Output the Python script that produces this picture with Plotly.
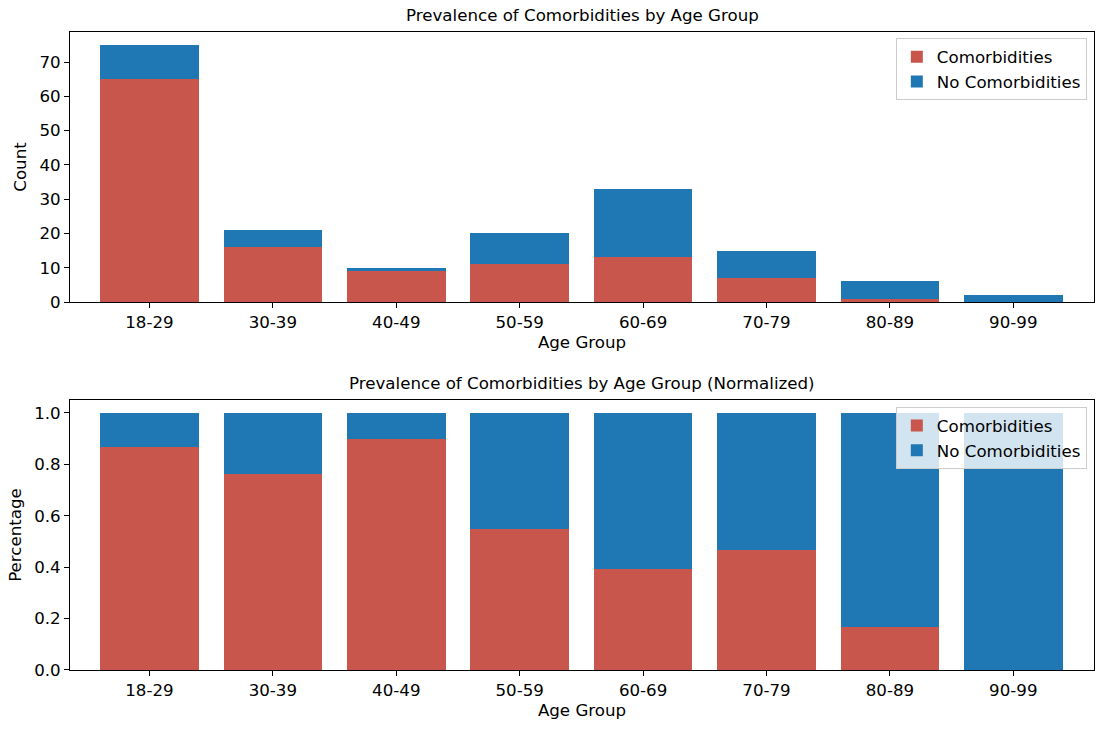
import plotly.graph_objects as go

age_groups = ["18-29", "30-39", "40-49", "50-59", "60-69", "70-79", "80-89", "90-99"]
comorb_counts = [65, 16, 9, 11, 13, 7, 1, 0]
no_comorb_counts = [10, 5, 1, 9, 20, 8, 5, 2]
comorb_share = [0.867, 0.762, 0.900, 0.550, 0.394, 0.467, 0.167, 0.0]
no_comorb_share = [0.133, 0.238, 0.100, 0.450, 0.606, 0.533, 0.833, 1.0]

RED = "#c8564c"
BLUE = "#1f77b4"
FONT = "DejaVu Sans"
FS = 16.67

fig = go.Figure()
xs = list(range(len(age_groups)))

fig.add_trace(go.Bar(x=xs, y=comorb_counts, name="Comorbidities", marker_color=RED,
                     marker_line_width=0, width=0.8, xaxis="x", yaxis="y", legend="legend"))
fig.add_trace(go.Bar(x=xs, y=no_comorb_counts, name="No Comorbidities", marker_color=BLUE,
                     marker_line_width=0, width=0.8, xaxis="x", yaxis="y", legend="legend"))
fig.add_trace(go.Bar(x=xs, y=comorb_share, name="Comorbidities", marker_color=RED,
                     marker_line_width=0, width=0.8, xaxis="x2", yaxis="y2", legend="legend2"))
fig.add_trace(go.Bar(x=xs, y=no_comorb_share, name="No Comorbidities", marker_color=BLUE,
                     marker_line_width=0, width=0.8, xaxis="x2", yaxis="y2", legend="legend2"))

axis_common = dict(showline=True, linecolor="black", linewidth=1, mirror=True,
                   ticks="outside", ticklen=5, tickcolor="black", tickwidth=1,
                   showgrid=False, zeroline=False,
                   tickfont=dict(family=FONT, size=FS, color="black"))

top_dom = [0.5768, 1.0]
bot_dom = [0.0, 0.4232]
x_range = [-0.644, 7.654]

fig.update_layout(
    width=1103, height=731,
    margin=dict(l=70, r=9, t=32, b=61),
    paper_bgcolor="white", plot_bgcolor="white",
    barmode="stack",
    font=dict(family=FONT, size=FS, color="black"),
    xaxis=dict(axis_common, domain=[0, 1], anchor="y", range=x_range,
               tickmode="array", tickvals=xs, ticktext=age_groups,
               title=dict(text="Age Group", font=dict(family=FONT, size=FS), standoff=5)),
    yaxis=dict(axis_common, domain=top_dom, anchor="x", range=[0, 78.75],
               tickvals=[0, 10, 20, 30, 40, 50, 60, 70],
               title=dict(text="Count", font=dict(family=FONT, size=FS), standoff=8)),
    xaxis2=dict(axis_common, domain=[0, 1], anchor="y2", range=x_range,
                tickmode="array", tickvals=xs, ticktext=age_groups,
                title=dict(text="Age Group", font=dict(family=FONT, size=FS), standoff=5)),
    yaxis2=dict(axis_common, domain=bot_dom, anchor="x2", range=[0, 1.05],
                tickvals=[0, 0.2, 0.4, 0.6, 0.8, 1.0], tickformat=".1f",
                title=dict(text="Percentage", font=dict(family=FONT, size=FS), standoff=8)),
    legend=dict(x=0.993, y=0.99, xanchor="right", yanchor="top", traceorder="normal",
                bgcolor="rgba(255,255,255,0.8)", bordercolor="#cccccc", borderwidth=1,
                font=dict(family=FONT, size=FS), tracegroupgap=0),
    legend2=dict(x=0.993, y=0.412, xanchor="right", yanchor="top", traceorder="normal",
                 bgcolor="rgba(255,255,255,0.8)", bordercolor="#cccccc", borderwidth=1,
                 font=dict(family=FONT, size=FS), tracegroupgap=0),
    annotations=[
        dict(text="Prevalence of Comorbidities by Age Group", xref="paper", yref="paper",
             x=0.5, y=1.0, xanchor="center", yanchor="bottom", yshift=5, showarrow=False,
             font=dict(family=FONT, size=FS, color="black")),
        dict(text="Prevalence of Comorbidities by Age Group (Normalized)", xref="paper", yref="paper",
             x=0.5, y=bot_dom[1], xanchor="center", yanchor="bottom", yshift=5, showarrow=False,
             font=dict(family=FONT, size=FS, color="black")),
    ],
)

fig.write_html("out.html", config={"displayModeBar": False},
               post_script="document.body.style.margin='0';document.body.style.overflow='hidden';")
